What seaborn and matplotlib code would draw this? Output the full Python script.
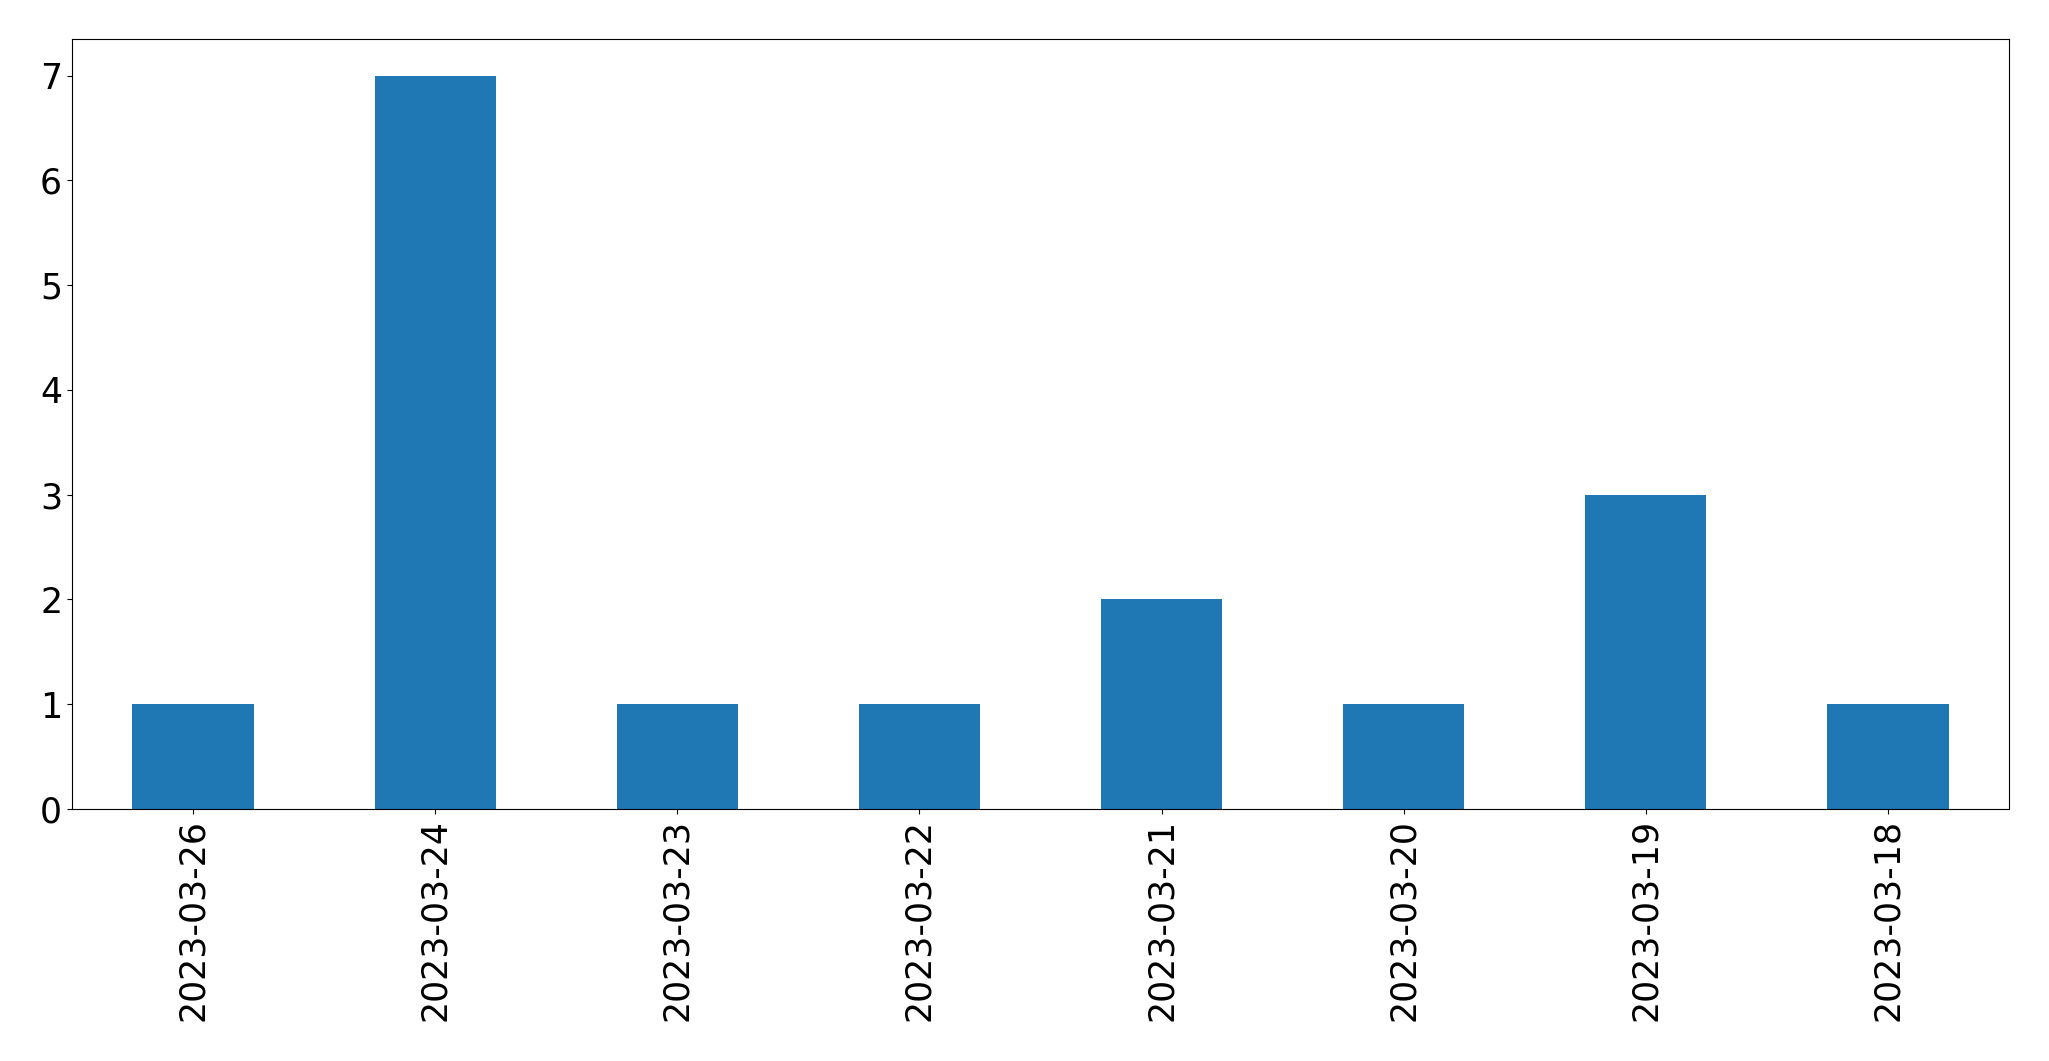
import matplotlib
matplotlib.use("Agg")
import matplotlib.pyplot as plt
import seaborn as sns
import pandas as pd

# counts per day, in the order shown on the chart
dates = ["2023-03-26", "2023-03-24", "2023-03-23", "2023-03-22",
         "2023-03-21", "2023-03-20", "2023-03-19", "2023-03-18"]
counts = [1, 7, 1, 1, 2, 1, 3, 1]

df = pd.DataFrame({"date": dates, "count": counts})

fig, ax = plt.subplots(figsize=(20.49, 10.61), dpi=100)
fig.subplots_adjust(left=0.0351, right=0.9805, top=0.9632, bottom=0.2375)

sns.barplot(data=df, x="date", y="count", order=dates, color="#1f77b4",
            saturation=1, width=0.5, ax=ax)

ax.set_xlim(-0.5, len(dates) - 0.5)
ax.set_ylim(0, max(counts) * 1.05)
ax.set_yticks(range(0, 8))
ax.set_xlabel("")
ax.set_ylabel("")
ax.tick_params(axis="both", labelsize=25)
ax.tick_params(axis="x", labelrotation=90)

fig.savefig("out.png", dpi=100)
